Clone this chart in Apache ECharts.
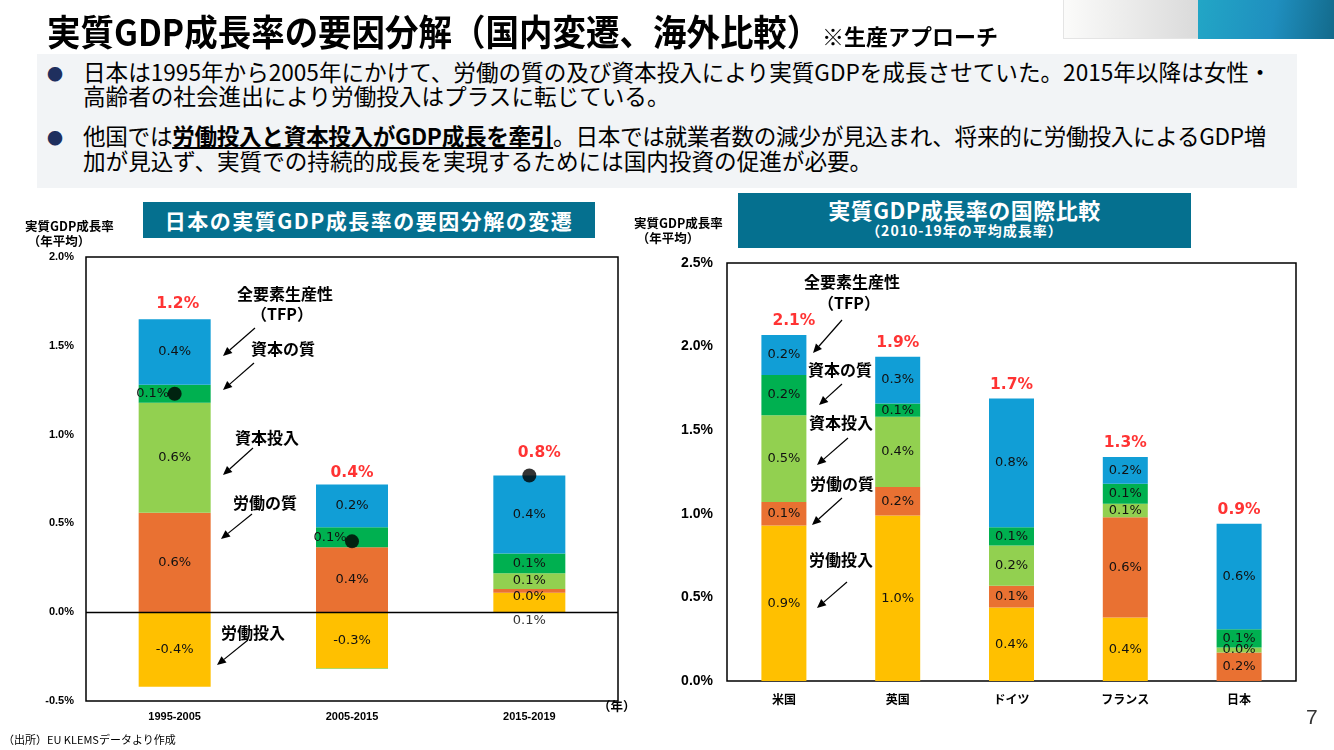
<!DOCTYPE html>
<html lang="ja">
<head>
<meta charset="utf-8">
<title>実質GDP成長率の要因分解</title>
<script src="https://cdn.jsdelivr.net/npm/echarts@6/dist/echarts.min.js"></script>
<style>
html, body { margin: 0; padding: 0; background: #fff; }
body { width: 1334px; height: 750px; position: relative; overflow: hidden; font-family: "Noto Sans CJK JP", "Noto Sans", sans-serif; color: #000; }
#chart { position: absolute; left: 0; top: 0; width: 1334px; height: 750px; }
.abs { position: absolute; white-space: nowrap; z-index: 2; }
.title { left: 47px; top: 8px; font-size: 36px; line-height: 44px; font-weight: bold; transform: scaleX(0.93); transform-origin: left center; }
.subtitle { left: 822px; top: 22px; font-size: 22px; line-height: 26px; font-weight: bold; }
.deco-gray { left: 1063px; top: 0; width: 135px; height: 38px; background: linear-gradient(90deg, #fbfbfa, #dadada); border-left: 1px solid #e4e4e4; border-bottom: 1px solid #e4e4e4; }
.deco-blue { left: 1198px; top: 0; width: 136px; height: 39px; background: linear-gradient(100deg, #22a6c6, #1f8fbf 55%, #136a8b); }
.box { left: 37px; top: 54px; width: 1260px; height: 134px; background: #f2f4f6; }
.bullet { left: 47px; font-size: 16px; line-height: 24px; color: #1f2f5e; }
.line { left: 83px; font-size: 22.6px; line-height: 24px; }
.line b { text-decoration: underline; text-decoration-thickness: 2px; text-underline-offset: 2px; }
.head { background: #05708f; color: #fff; font-weight: bold; text-align: center; }
.small { font-size: 12.5px; line-height: 15px; font-weight: bold; }
</style>
</head>
<body>
<div id="chart"></div>

<div class="abs deco-gray"></div>
<div class="abs deco-blue"></div>
<div class="abs title">実質GDP成長率の要因分解（国内変遷、海外比較）</div>
<div class="abs subtitle">※生産アプローチ</div>

<div class="abs box"></div>
<div class="abs bullet" style="top:61px">●</div>
<div class="abs line" style="top:60px">日本は1995年から2005年にかけて、労働の質の及び資本投入により実質GDPを成長させていた。2015年以降は女性・</div>
<div class="abs line" style="top:84px">高齢者の社会進出により労働投入はプラスに転じている。</div>
<div class="abs bullet" style="top:125px">●</div>
<div class="abs line" style="top:124px;letter-spacing:-0.3px;">他国では<b>労働投入と資本投入がGDP成長を牽引</b>。日本では就業者数の減少が見込まれ、将来的に労働投入によるGDP増</div>
<div class="abs line" style="top:149px">加が見込ず、実質での持続的成長を実現するためには国内投資の促進が必要。</div>

<div class="abs head" style="left:143px;top:202px;width:452px;height:36px;font-size:21px;line-height:36px;letter-spacing:1.5px;">日本の実質GDP成長率の要因分解の変遷</div>
<div class="abs head" style="left:738px;top:193px;width:453px;height:55px;">
  <div style="font-size:22px;line-height:24px;margin-top:4px;letter-spacing:0.5px;">実質GDP成長率の国際比較</div>
  <div style="font-size:14px;line-height:18px;letter-spacing:1px;">（2010-19年の平均成長率）</div>
</div>

<div class="abs small" style="left:25px;top:218px;">実質GDP成長率<br>&nbsp;（年平均）</div>
<div class="abs small" style="left:634px;top:215px;">実質GDP成長率<br>&nbsp;（年平均）</div>
<div class="abs small" style="left:598px;top:698px;">（年）</div>
<div class="abs" style="left:3px;top:731px;font-size:11px;line-height:16px;">（出所）EU KLEMSデータより作成</div>
<div class="abs" style="left:1306px;top:703px;font-size:21px;line-height:28px;color:#333;font-family:'Liberation Sans';">7</div>

<script>
// 日本の要因分解（期間別）
const leftCategories = ['1995-2005', '2005-2015', '2015-2019'];
const leftLaborInput = [-0.42, -0.315, 0.11];
const leftLaborQuality = [0.56, 0.366, 0.02];
const leftCapitalInput = [0.62, -0.005, 0.09];
const leftCapitalQuality = [0.10, 0.113, 0.11];
const leftTfp = [0.37, 0.24, 0.44];

// 国際比較（2010-19年平均）
const rightCategories = ['米国', '英国', 'ドイツ', 'フランス', '日本'];
const rightLaborInput = [0.93, 0.99, 0.44, 0.38, 0];
const rightLaborQuality = [0.14, 0.17, 0.13, 0.60, 0.17];
const rightCapitalInput = [0.52, 0.42, 0.24, 0.08, 0.03];
const rightCapitalQuality = [0.24, 0.08, 0.11, 0.12, 0.11];
const rightTfp = [0.24, 0.28, 0.77, 0.16, 0.63];

const factorNames = ['労働投入', '労働の質', '資本投入', '資本の質', '全要素生産性'];
const factorColors = ['#FFC000', '#E97132', '#92D050', '#00B050', '#119ED6'];

const leftGroups = [leftLaborInput, leftLaborQuality, leftCapitalInput, leftCapitalQuality, leftTfp];
const rightGroups = [rightLaborInput, rightLaborQuality, rightCapitalInput, rightCapitalQuality, rightTfp];

const pct = v => v.toFixed(1) + '%';
const netAt = (groups, i) => groups.reduce((s, g) => s + g[i], 0);
const posTopAt = (groups, i) => groups.reduce((s, g) => s + (g[i] > 0 ? g[i] : 0), 0);

function barSeries(groups, gi, barWidth, tweaks) {
  return groups.map((vals, k) => ({
    name: factorNames[k],
    type: 'bar',
    stack: 'g' + gi,
    xAxisIndex: gi,
    yAxisIndex: gi,
    barWidth,
    itemStyle: { color: factorColors[k] },
    label: {
      show: true, position: 'inside', color: '#111', fontSize: 13, fontFamily: 'DejaVu Sans',
      formatter: p => Math.abs(p.value) < 0.01 ? '' : pct(p.value)
    },
    data: vals.map((v, i) => tweaks[k + ':' + i] ? { value: v, label: tweaks[k + ':' + i] } : v)
  }));
}

function totalSeries(groups, gi, tweaks) {
  return {
    type: 'scatter', xAxisIndex: gi, yAxisIndex: gi, symbolSize: 1, silent: true, z: 6,
    itemStyle: { color: 'rgba(0,0,0,0)' },
    label: {
      show: true, position: 'top', distance: 5, color: '#FF0000', fontWeight: 'bold', fontSize: 15.5,
      fontFamily: 'DejaVu Sans', formatter: p => pct(netAt(groups, p.dataIndex))
    },
    data: groups[0].map((_, i) => tweaks[i] ? { value: posTopAt(groups, i), label: tweaks[i] } : posTopAt(groups, i))
  };
}

function arrow(x1, y1, x2, y2) {
  const a = Math.atan2(y2 - y1, x2 - x1), L = 9, W = 4;
  const bx = x2 - L * Math.cos(a), by = y2 - L * Math.sin(a);
  const px = -Math.sin(a) * W, py = Math.cos(a) * W;
  return [
    { type: 'line', silent: true, shape: { x1, y1, x2: bx, y2: by }, style: { stroke: '#000', lineWidth: 1.2 } },
    { type: 'polygon', silent: true, shape: { points: [[x2, y2], [bx + px, by + py], [bx - px, by - py]] }, style: { fill: '#000' } }
  ];
}

function note(text, x, y) {
  return {
    type: 'text', silent: true, x, y,
    style: { text, font: 'bold 16px "Noto Sans CJK JP"', fill: '#000', align: 'center', verticalAlign: 'middle', textAlign: 'center', textVerticalAlign: 'middle' }
  };
}

const annotations = [
  note('全要素生産性', 285, 294), note('（TFP）', 282, 314), ...arrow(255, 328, 223, 356),
  note('資本の質', 283, 349), ...arrow(254, 363, 223, 390),
  note('資本投入', 267, 438), ...arrow(253, 448, 223, 475),
  note('労働の質', 265, 503), ...arrow(252, 514, 221, 539),
  note('労働投入', 253, 633), ...arrow(248, 640, 217, 665),
  note('全要素生産性', 852, 282), note('（TFP）', 849, 303), ...arrow(842, 320, 813, 353),
  note('資本の質', 840, 370), ...arrow(842, 384, 819, 405),
  note('資本投入', 841, 423), ...arrow(848, 438, 817, 465),
  note('労働の質', 842, 484), ...arrow(842, 498, 812, 525),
  note('労働投入', 841, 560), ...arrow(847, 582, 817, 608)
];

const axisLabelFont = { color: '#000', fontWeight: 'bold', fontFamily: 'Liberation Sans' };

const chart = echarts.init(document.getElementById('chart'), null, { renderer: 'canvas' });

const leftBars = barSeries(leftGroups, 0, 72, {
  '0:2': { position: 'bottom', distance: 2, color: '#333' },
  '1:2': { offset: [0, 6] },
  '3:0': { offset: [-22, 0] },
  '3:1': { offset: [-22, 0] }
});
leftBars[0].markLine = {
  silent: true, symbol: 'none', label: { show: false },
  lineStyle: { color: '#000', width: 1.3, type: 'solid' },
  data: [{ yAxis: 0 }]
};

chart.setOption({
  animation: false,
  grid: [
    { left: 86, top: 257, width: 532, height: 444, show: true, borderColor: '#000', borderWidth: 1.5 },
    { left: 727, top: 263, width: 569, height: 418, show: true, borderColor: '#000', borderWidth: 1.5 }
  ],
  xAxis: [
    { type: 'category', gridIndex: 0, data: leftCategories, axisLine: { show: false }, axisTick: { show: false },
      axisLabel: { ...axisLabelFont, fontSize: 11, margin: 10 } },
    { type: 'category', gridIndex: 1, data: rightCategories, axisLine: { show: false }, axisTick: { show: false },
      axisLabel: { ...axisLabelFont, fontFamily: 'Noto Sans CJK JP', fontSize: 12, margin: 12 } }
  ],
  yAxis: [
    { type: 'value', gridIndex: 0, min: -0.5, max: 2.0, interval: 0.5, splitLine: { show: false },
      axisLine: { show: false }, axisTick: { show: false },
      axisLabel: { ...axisLabelFont, fontSize: 11, margin: 12, formatter: v => v.toFixed(1) + '%' } },
    { type: 'value', gridIndex: 1, min: 0, max: 2.5, interval: 0.5, splitLine: { show: false },
      axisLine: { show: false }, axisTick: { show: false },
      axisLabel: { ...axisLabelFont, fontSize: 14, margin: 14, formatter: v => v.toFixed(1) + '%' } }
  ],
  series: [
    ...leftBars,
    ...barSeries(rightGroups, 1, 45, {}),
    {
      type: 'scatter', xAxisIndex: 0, yAxisIndex: 0, symbolSize: 14, z: 5, silent: true,
      itemStyle: { color: '#000' },
      data: leftCategories.map((_, i) => netAt(leftGroups, i))
    },
    totalSeries(leftGroups, 0, {
      0: { distance: 7, offset: [3, 0] },
      1: { distance: 3 },
      2: { distance: 14, offset: [10, 0] }
    }),
    totalSeries(rightGroups, 1, {
      0: { offset: [10, 0] }
    })
  ],
  graphic: annotations
});
</script>
</body>
</html>
